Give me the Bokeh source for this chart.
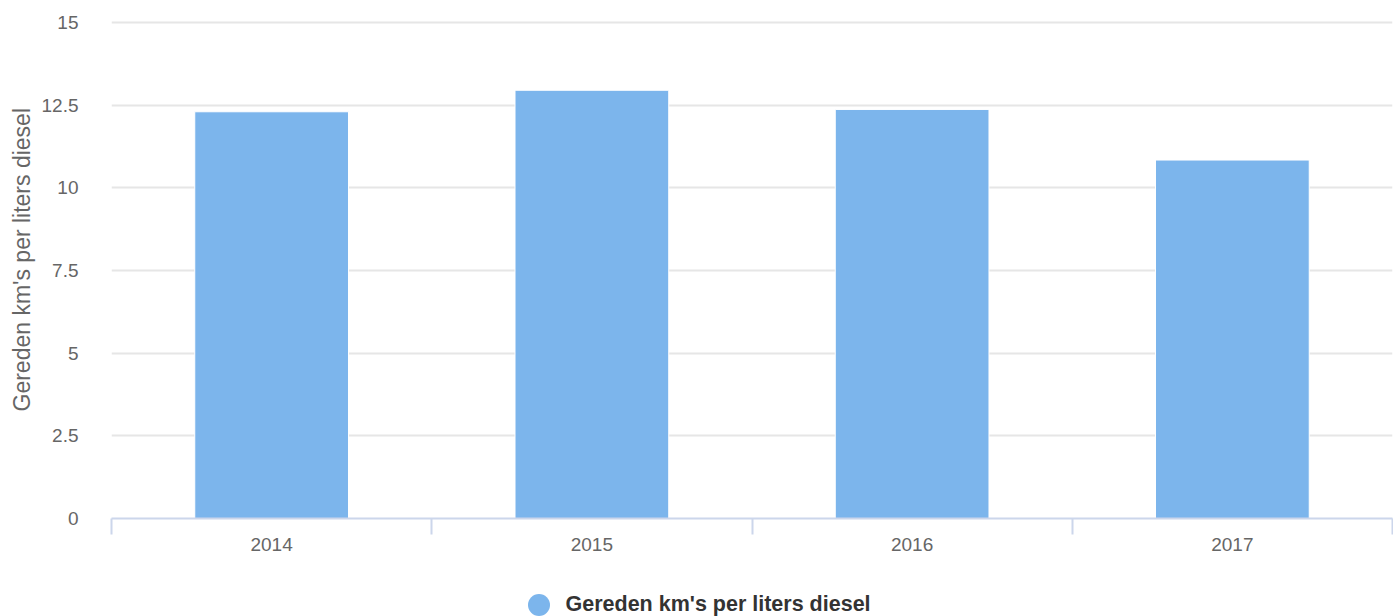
from bokeh.plotting import figure
from bokeh.layouts import column
from bokeh.models import (Range1d, LinearAxis, FixedTicker, Legend, LegendItem,
                          ColumnDataSource)
from bokeh.embed import file_html
from bokeh.resources import INLINE

# Yearly fuel efficiency
years = ["2014", "2015", "2016", "2017"]
km_per_liter = [12.3, 12.95, 12.37, 10.84]

y_ticks = [0, 2.5, 5, 7.5, 10, 12.5, 15]
y_tick_labels = ["0", "2.5", "5", "7.5", "10", "12.5", "15"]
series_name = "Gereden km's per liters diesel"

FONT = "Liberation Sans"
BAR_COLOR = "#7cb5ec"
AXIS_COLOR = "#ccd6eb"
LABEL_COLOR = "#666666"

WIDTH = 1393
CHART_H = 576
LEGEND_H = 40

n = len(years)
centers = [i + 0.5 for i in range(n)]
source = ColumnDataSource(data=dict(x=centers, year=years, value=km_per_liter))

p = figure(width=WIDTH, height=CHART_H, output_backend="svg", toolbar_location=None,
           x_range=Range1d(0, n), y_range=Range1d(0, y_ticks[-1] + 0.06),
           x_axis_location=None, title_location="left",
           min_border_left=111, min_border_right=1, min_border_top=20,
           min_border_bottom=CHART_H - 518)
p.outline_line_color = None
p.background_fill_color = "white"
p.border_fill_color = "white"

# rotated axis title on the left
p.title.text = series_name
p.title.text_font = FONT
p.title.text_font_size = "23px"
p.title.text_font_style = "normal"
p.title.text_color = LABEL_COLOR
p.title.align = "left"
p.title.offset = 107
p.title.standoff = 8

bars = p.vbar(x="x", top="value", bottom=0, width=0.48, source=source,
              fill_color=BAR_COLOR, line_color="white", line_width=1)

# y axis: labels only, plus horizontal grid
yaxis = p.yaxis[0]
yaxis.ticker = FixedTicker(ticks=y_ticks)
yaxis.major_label_overrides = {t: s for t, s in zip(y_ticks, y_tick_labels)}
yaxis.axis_line_color = None
yaxis.major_tick_line_color = None
yaxis.minor_tick_line_color = None
yaxis.major_label_standoff = 27
yaxis.major_label_text_font = FONT
yaxis.major_label_text_font_size = "19px"
yaxis.major_label_text_color = LABEL_COLOR

p.ygrid.ticker = FixedTicker(ticks=y_ticks)
p.ygrid.grid_line_color = "#e6e6e6"
p.ygrid.grid_line_width = 2
p.xgrid.visible = False

# x axis line with ticks on the category boundaries
boundary_axis = LinearAxis(
    ticker=FixedTicker(ticks=list(range(n + 1))),
    major_label_overrides={i: "" for i in range(n + 1)},
    major_label_text_font_size="0px",
    major_label_standoff=0,
    axis_line_color=AXIS_COLOR, axis_line_width=2,
    major_tick_line_color=AXIS_COLOR, major_tick_line_width=2,
    major_tick_in=0, major_tick_out=16,
    minor_tick_line_color=None)
p.add_layout(boundary_axis, "below")

# category labels centred under each bar
label_axis = LinearAxis(
    ticker=FixedTicker(ticks=centers),
    major_label_overrides={c: y for c, y in zip(centers, years)},
    axis_line_color=None, major_tick_line_color=None, minor_tick_line_color=None,
    major_label_standoff=-3,
    major_label_text_font=FONT, major_label_text_font_size="19px",
    major_label_text_color=LABEL_COLOR)
p.add_layout(label_axis, "below")

# legend strip underneath the chart; the swatch renderer shares the bar data
# but sits outside this strip's visible range, so only its legend entry shows
leg = figure(width=WIDTH, height=LEGEND_H, output_backend="svg", toolbar_location=None,
             x_range=Range1d(0, 1), y_range=Range1d(-2, -1),
             x_axis_location=None, y_axis_location=None, min_border=0)
leg.outline_line_color = None
leg.xgrid.visible = False
leg.ygrid.visible = False
swatch = leg.scatter(x="x", y="value", source=source, marker="circle", size=22,
                     fill_color=BAR_COLOR, line_color=None)
legend = Legend(items=[LegendItem(label=series_name, renderers=[swatch])],
                location=(399.5, -15.5), orientation="horizontal",
                glyph_width=55, glyph_height=55, label_standoff=-10,
                label_text_font=FONT, label_text_font_size="21.5px",
                label_text_font_style="bold", label_text_color="#333333",
                padding=0, margin=0, spacing=0,
                background_fill_alpha=0, border_line_color=None)
leg.add_layout(legend, "center")

layout = column(p, leg, spacing=0)
open("out.html", "w").write(file_html(layout, INLINE))
